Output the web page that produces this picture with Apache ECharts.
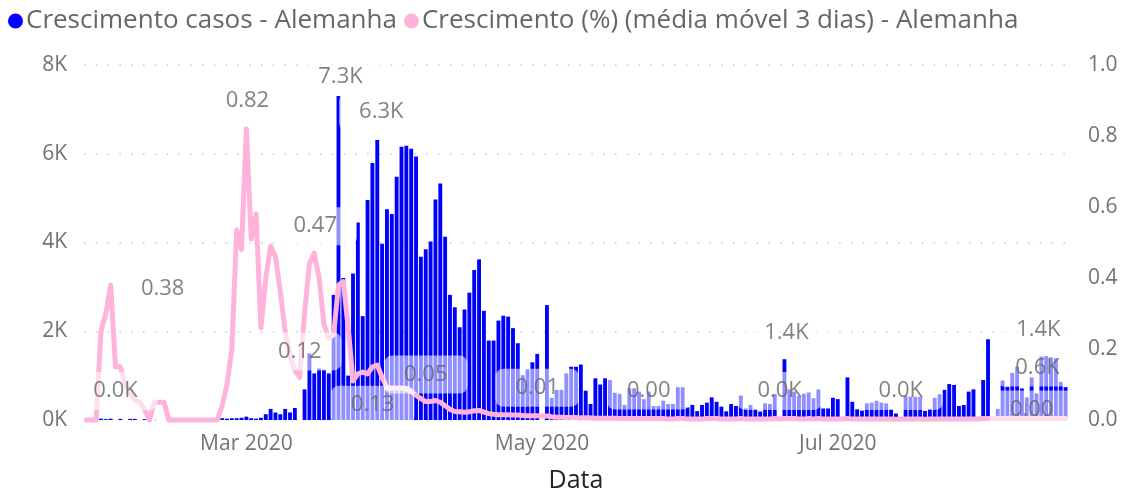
<!DOCTYPE html>
<html><head><meta charset="utf-8">
<script src="https://cdn.jsdelivr.net/npm/echarts@6/dist/echarts.min.js"></script>
<style>html,body{margin:0;padding:0;background:#fff}#c{width:1125px;height:496px}</style>
</head><body><div id="c"></div>
<script>
// ---- data ----
const startDate = '2020-01-28';
const seriesCasesName = 'Crescimento casos - Alemanha';
const seriesPctName = 'Crescimento (%) (média móvel 3 dias) - Alemanha';
const xTickDates = ['2020-03-01', '2020-05-01', '2020-07-01'];
const xTickLabels = ['Mar 2020', 'May 2020', 'Jul 2020'];
const leftTicks = ['0K', '2K', '4K', '6K', '8K'];
const rightTicks = ['0.0', '0.2', '0.4', '0.6', '0.8', '1.0'];

const cases = [
  30, 20, 25, 30,
  20, 30, 0, 25, 0, 25, 25, 0, 20, 20,
  0, 0, 0, 0, 0, 0, 0, 0, 0, 0,
  0, 0, 0, 30, 40, 30, 40, 40, 50,
  75, 40, 30, 50, 130, 250, 170, 130, 250, 170,
  270, 0, 690, 1500, 1050, 1160, 1130, 1050, 2820, 7300,
  3200, 1000, 3300, 4450, 2340, 4960, 5790, 6310, 3970, 4750,
  4640,
  5480, 6160, 6180, 6110, 5940, 3680, 3850, 4020, 4970, 5330,
  4130, 2820, 2540, 2090, 2490, 2870, 3380, 3620, 2460, 1790,
  1790, 2240, 2350, 2330, 2070, 1730, 1010, 1140, 1300, 1490,
  0, 2590, 500, 680, 680, 1050, 1200, 1200, 1250, 660,
  360, 940, 800, 940, 900, 615, 590, 340, 715, 715,
  640, 470, 640, 315, 315, 435, 360, 360, 740, 740,
  285,
  340, 200, 340, 390, 510, 410, 300, 195, 360, 315,
  550, 260, 340, 240, 190, 375, 360, 585, 0, 1370,
  690, 640, 540, 590, 620, 490, 690, 260, 260, 500,
  470, 0, 960, 410, 240, 210, 375, 390, 435, 390,
  375, 240, 145, 0, 540, 525, 525, 525, 205, 250,
  500, 580, 680, 810, 790, 315, 340, 640, 690, 0,
  900,
  1820, 0, 250, 890, 750, 1060, 1200, 710, 510, 960,
  600, 1430, 1440, 1410, 1390, 860, 740
];

const pct = [
  0, 0, 0, 0.25,
  0.30, 0.38, 0.15, 0.15, 0.10, 0.075, 0.056, 0.05, 0.03, 0,
  0.05, 0.05, 0.05, 0, 0, 0, 0, 0, 0, 0,
  0, 0, 0, 0, 0.04, 0.10, 0.20, 0.535, 0.48,
  0.82, 0.51, 0.58, 0.26, 0.40, 0.49, 0.46, 0.36, 0.25, 0.18,
  0.14, 0.12, 0.30, 0.44, 0.47, 0.40, 0.27, 0.23, 0.24, 0.38,
  0.39, 0.26, 0.11, 0.13, 0.135, 0.13, 0.15, 0.155, 0.12, 0.09,
  0.09,
  0.09, 0.09, 0.088, 0.08, 0.07, 0.06, 0.052, 0.052, 0.055, 0.05,
  0.04, 0.03, 0.024, 0.023, 0.022, 0.023, 0.026, 0.027, 0.022, 0.018,
  0.016, 0.015, 0.015, 0.015, 0.014, 0.014, 0.013, 0.012, 0.012, 0.012,
  0.011, 0.011, 0.009, 0.008, 0.008, 0.007, 0.007, 0.007, 0.006, 0.006,
  0.006, 0.005, 0.005, 0.005, 0.005, 0.005, 0.004, 0.004, 0.004, 0.004,
  0.004, 0.004, 0.004, 0.004, 0.004, 0.004, 0.003, 0.003, 0.004, 0.004,
  0.003,
  0.003, 0.003, 0.003, 0.004, 0.004, 0.004, 0.003, 0.003, 0.003, 0.003,
  0.004, 0.003, 0.003, 0.003, 0.003, 0.003, 0.003, 0.004, 0.003, 0.004,
  0.004, 0.004, 0.003, 0.003, 0.004, 0.003, 0.004, 0.003, 0.003, 0.003,
  0.003, 0.003, 0.004, 0.003, 0.003, 0.003, 0.003, 0.003, 0.003, 0.003,
  0.003, 0.003, 0.002, 0.002, 0.003, 0.003, 0.003, 0.003, 0.002, 0.003,
  0.003, 0.003, 0.003, 0.003, 0.003, 0.003, 0.003, 0.003, 0.003, 0.003,
  0.004,
  0.004, 0.004, 0.004, 0.004, 0.004, 0.004, 0.004, 0.004, 0.004, 0.004,
  0.004, 0.004, 0.004, 0.004, 0.004, 0.004, 0.004
];

// indexes of points carrying a data label (as in the reference)
const caseLabelIdx = [6, 52, 60, 143, 144, 168, 196, 197];
const pctLabelIdx = [5, 33, 44, 47, 58, 70, 93, 116, 195];

// ---- categories (daily dates) ----
const categories = [];
{
  const d0 = new Date(startDate + 'T00:00:00Z');
  for (let k = 0; k < cases.length; k++) {
    const d = new Date(d0.getTime() + k * 86400000);
    categories.push(d.toISOString().slice(0, 10));
  }
}

// ---- label styling (offsets of label centre from the point, px) ----
const caseLabelOffset = {6: [0, -29], 52: [2, -19], 60: [4, -28], 143: [0, -29], 144: [2, -26], 168: [0, -29], 196: [1, -26], 197: [-3, -27]};
const pctLabelOffset = {5: [52, 4], 33: [1, -28], 44: [0, -26], 47: [1, -27], 58: [5, 31], 70: [0, -27], 93: [0, -28], 116: [0, -28], 195: [0, -9]};

const FONT = "'Open Sans', 'Noto Sans', sans-serif";
const boxLabel = {
  show: true, position: 'inside', fontFamily: FONT, fontSize: 22, lineHeight: 22,
  color: '#636363', backgroundColor: 'rgba(255,255,255,0.7)',
  padding: [8, 20], borderRadius: 8
};
const fmtK = v => (v / 1000).toFixed(1) + 'K';
const fmtP = v => v.toFixed(2);

const chart = echarts.init(document.getElementById('c'), null, {renderer: 'canvas'});
chart.setOption({
  animation: false,
  backgroundColor: '#ffffff',
  textStyle: {fontFamily: FONT},
  legend: {
    data: [
      {name: seriesCasesName, icon: 'circle'},
      {name: seriesPctName, icon: 'circle'}
    ],
    left: 3, top: 3, itemWidth: 15, itemHeight: 15, itemGap: 7,
    textStyle: {fontFamily: FONT, fontSize: 26, color: '#666666', padding: [0, 0, 0, -2]}
  },
  grid: {left: 84, right: 57, top: 65, bottom: 76, containLabel: false, outerBoundsMode: 'none'},
  xAxis: {
    type: 'category', data: categories,
    axisLine: {show: false}, axisTick: {show: false},
    axisLabel: {
      interval: (idx, val) => xTickDates.includes(val),
      formatter: val => xTickLabels[xTickDates.indexOf(val)] || '',
      fontFamily: FONT, fontSize: 21, color: '#737373', margin: 14
    },
    name: 'Data', nameLocation: 'middle', nameGap: 48,
    nameTextStyle: {fontFamily: FONT, fontSize: 25, color: '#252423'}
  },
  yAxis: [
    {
      type: 'value', min: 0, max: 8000, interval: 2000,
      axisLine: {show: false}, axisTick: {show: false},
      axisLabel: {formatter: v => leftTicks[Math.round(v / 2000)], fontFamily: FONT, fontSize: 21, color: '#737373', margin: 17},
      splitLine: {lineStyle: {color: '#c8c8c8', width: 1.5, type: [1.5, 10.3]}}
    },
    {
      type: 'value', min: 0, max: 1, interval: 0.2,
      axisLine: {show: false}, axisTick: {show: false},
      axisLabel: {formatter: v => rightTicks[Math.round(v / 0.2)], fontFamily: FONT, fontSize: 21, color: '#737373', margin: 20},
      splitLine: {show: false}
    }
  ],
  series: [
    {
      name: seriesCasesName, type: 'bar', data: cases, yAxisIndex: 0, z: 2,
      barCategoryGap: '20%', itemStyle: {color: '#0000FF'}, silent: true
    },
    {
      name: seriesPctName, type: 'line', data: pct, yAxisIndex: 1, z: 3, clip: false,
      showSymbol: false, symbol: 'none', silent: true,
      itemStyle: {color: '#FFB3DA'},
      lineStyle: {color: '#FFB3DA', width: 5, join: 'round', cap: 'round'}
    },
    {
      name: 'caseLabels', type: 'scatter', yAxisIndex: 0, z: 10, symbolSize: 0, silent: true,
      data: caseLabelIdx.map(i => ({
        value: [i, cases[i]],
        label: Object.assign({}, boxLabel, {formatter: fmtK(cases[i]), offset: caseLabelOffset[i]})
      }))
    },
    {
      name: 'pctLabels', type: 'scatter', yAxisIndex: 1, z: 10, symbolSize: 0, silent: true,
      data: pctLabelIdx.map(i => ({
        value: [i, pct[i]],
        label: Object.assign({}, boxLabel, {formatter: fmtP(pct[i]), offset: pctLabelOffset[i]})
      }))
    }
  ]
});
</script>
</body></html>
